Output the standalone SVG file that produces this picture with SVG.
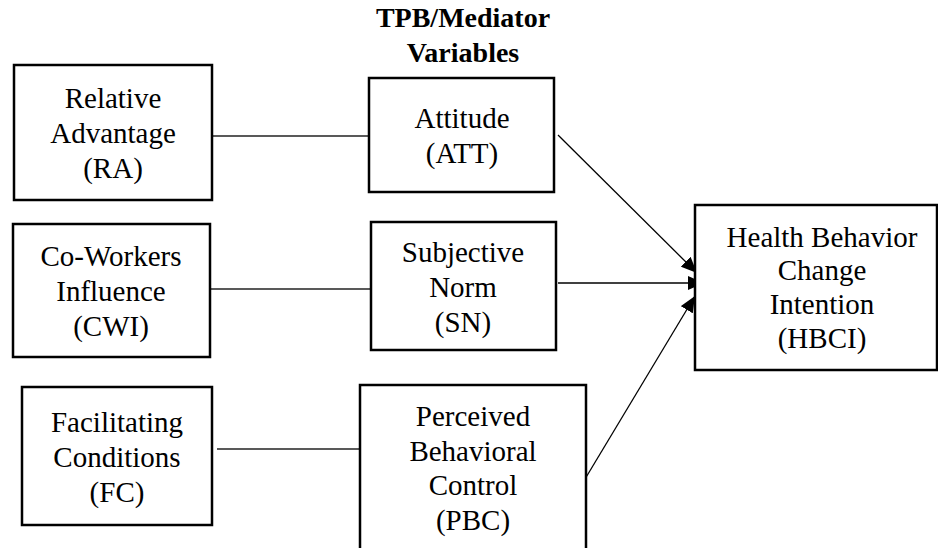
<svg xmlns="http://www.w3.org/2000/svg" width="938" height="548" viewBox="0 0 938 548">
<style>
  .box { fill: #ffffff; stroke: #000000; stroke-width: 2.5; }
  .t { font-size: 29px; fill: #000000; text-anchor: middle; }
  .title { font-size: 28px; font-weight: bold; fill: #000000; text-anchor: middle; }
  .link { stroke: #222222; stroke-width: 1.5; fill: none; }
  .arrow { stroke: #000000; stroke-width: 1.3; fill: none; marker-end: url(#ah); }
</style>
<defs>
  <marker id="ah" viewBox="0 0 16 14" refX="16" refY="7" markerWidth="16" markerHeight="14" markerUnits="userSpaceOnUse" orient="auto">
    <path d="M0,0 L16,7 L0,14 z" fill="#000000"/>
  </marker>
</defs>
<rect width="938" height="548" fill="#ffffff"/>
<g font-family="Liberation Serif, DejaVu Serif, serif">
<g id="title">
  <text class="title" x="463" y="27">TPB/Mediator</text>
  <text class="title" x="463" y="62">Variables</text>
</g>

<g id="connectors">
  <line class="link" x1="212" y1="136" x2="369" y2="136"/>
  <line class="link" x1="207" y1="289" x2="371" y2="289"/>
  <line class="link" x1="217" y1="449" x2="360" y2="449"/>
  <line class="arrow" x1="558" y1="135" x2="697" y2="273"/>
  <line class="arrow" x1="558" y1="283" x2="704" y2="283"/>
  <line class="arrow" x1="582" y1="484" x2="695" y2="296"/>
</g>

<g id="RA">
  <rect class="box" x="14" y="65" width="198" height="135"/>
  <text class="t" x="113" y="108">Relative</text>
  <text class="t" x="113" y="143">Advantage</text>
  <text class="t" x="113" y="178">(RA)</text>
</g>

<g id="CWI">
  <rect class="box" x="13" y="224" width="197" height="133"/>
  <text class="t" x="111" y="266">Co-Workers</text>
  <text class="t" x="111" y="301">Influence</text>
  <text class="t" x="111" y="336">(CWI)</text>
</g>

<g id="FC">
  <rect class="box" x="22" y="387" width="190" height="138"/>
  <text class="t" x="117" y="432">Facilitating</text>
  <text class="t" x="117" y="467">Conditions</text>
  <text class="t" x="117" y="502">(FC)</text>
</g>

<g id="ATT">
  <rect class="box" x="369" y="78" width="185" height="114"/>
  <text class="t" x="462" y="128">Attitude</text>
  <text class="t" x="462" y="163">(ATT)</text>
</g>

<g id="SN">
  <rect class="box" x="371" y="222" width="185" height="128"/>
  <text class="t" x="463" y="262">Subjective</text>
  <text class="t" x="463" y="297">Norm</text>
  <text class="t" x="463" y="332">(SN)</text>
</g>

<g id="PBC">
  <rect class="box" x="360" y="385" width="226" height="180"/>
  <text class="t" x="473" y="426">Perceived</text>
  <text class="t" x="473" y="461">Behavioral</text>
  <text class="t" x="473" y="495">Control</text>
  <text class="t" x="473" y="530">(PBC)</text>
</g>

<g id="HBCI">
  <rect class="box" x="695" y="205" width="242" height="165"/>
  <text class="t" x="822" y="247">Health Behavior</text>
  <text class="t" x="822" y="280">Change</text>
  <text class="t" x="822" y="314">Intention</text>
  <text class="t" x="822" y="348">(HBCI)</text>
</g>
</g>
</svg>
